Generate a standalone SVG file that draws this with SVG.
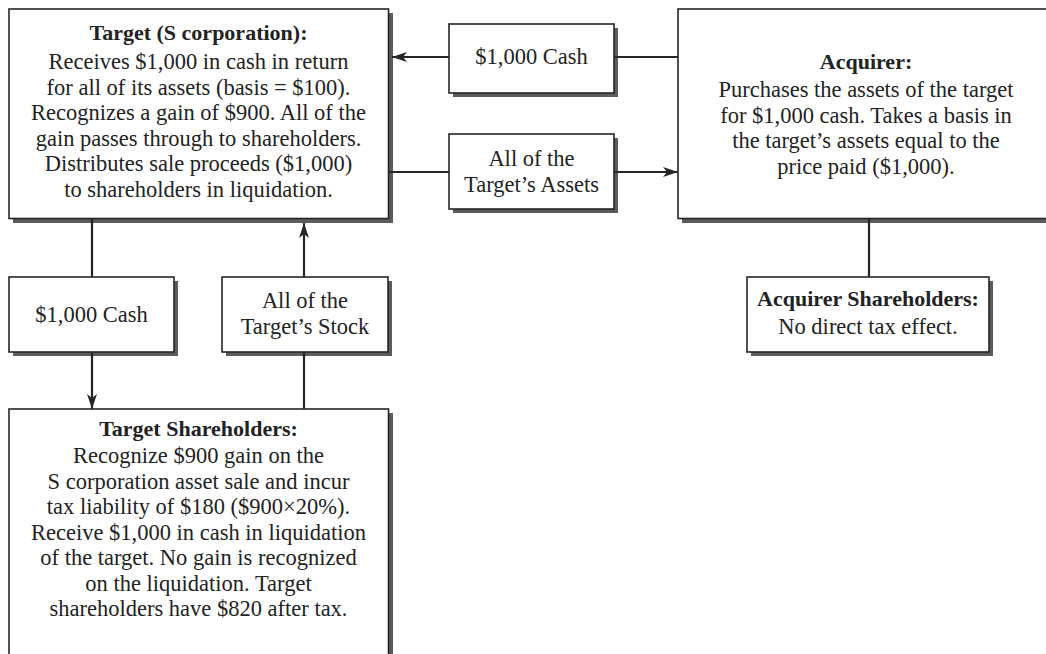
<svg xmlns="http://www.w3.org/2000/svg" width="1046" height="654" viewBox="0 0 1046 654">
  <defs>
    <style>
      .shadow { fill: #5c5c5c; }
      .box { fill: #ffffff; stroke: #262626; stroke-width: 1.6; }
      .t { font-family: "Liberation Serif", "Times New Roman", serif; font-size: 22.5px; fill: #222222; text-anchor: middle; }
      .b { font-weight: bold; font-size: 22px; }
      .wire { fill: none; stroke: #262626; stroke-width: 2.2; }
      .arrow { marker-end: url(#head); }
    </style>
    <marker id="head" markerUnits="userSpaceOnUse" viewBox="0 0 15 10" markerWidth="15" markerHeight="10" refX="15" refY="5" orient="auto">
      <path d="M0,0 L15,5 L0,10 L4,5 Z" fill="#262626"/>
    </marker>
  </defs>

  <rect width="1046" height="654" fill="#ffffff"/>

  <!-- Target corporation -->
  <g id="target">
    <rect class="shadow" x="13" y="13" width="380" height="210"/>
    <rect class="box" x="9" y="9" width="379.5" height="209.5"/>
    <text class="t b" x="198.5" y="40">Target (S corporation):</text>
    <text class="t" x="198.5" y="69">Receives $1,000 in cash in return</text>
    <text class="t" x="198.5" y="94.5">for all of its assets (basis = $100).</text>
    <text class="t" x="198.5" y="120">Recognizes a gain of $900. All of the</text>
    <text class="t" x="198.5" y="145.5">gain passes through to shareholders.</text>
    <text class="t" x="198.5" y="171">Distributes sale proceeds ($1,000)</text>
    <text class="t" x="198.5" y="196.5">to shareholders in liquidation.</text>
  </g>

  <!-- Cash paid by the acquirer -->
  <g id="cash-top">
    <rect class="shadow" x="453" y="28" width="165" height="69"/>
    <rect class="box" x="449" y="24" width="165" height="69"/>
    <text class="t" x="531.5" y="64">$1,000 Cash</text>
  </g>

  <!-- Assets transferred -->
  <g id="assets">
    <rect class="shadow" x="453" y="138" width="165" height="75"/>
    <rect class="box" x="449" y="134" width="165" height="75"/>
    <text class="t" x="531.5" y="166">All of the</text>
    <text class="t" x="531.5" y="192">Target’s Assets</text>
  </g>

  <!-- Acquirer -->
  <g id="acquirer">
    <rect class="shadow" x="682" y="13" width="390" height="210"/>
    <rect class="box" x="678" y="9" width="390" height="209.5"/>
    <text class="t b" x="866" y="69">Acquirer:</text>
    <text class="t" x="866" y="97">Purchases the assets of the target</text>
    <text class="t" x="866" y="122.5">for $1,000 cash. Takes a basis in</text>
    <text class="t" x="866" y="148">the target’s assets equal to the</text>
    <text class="t" x="866" y="173.5">price paid ($1,000).</text>
  </g>

  <!-- Acquirer shareholders -->
  <g id="acquirer-shareholders">
    <rect class="shadow" x="751" y="281" width="242" height="75"/>
    <rect class="box" x="747" y="277" width="242" height="75"/>
    <text class="t b" x="868" y="306">Acquirer Shareholders:</text>
    <text class="t" x="868" y="334">No direct tax effect.</text>
  </g>

  <!-- Liquidating distribution -->
  <g id="cash-bottom">
    <rect class="shadow" x="13" y="281" width="165" height="75"/>
    <rect class="box" x="9" y="277" width="165" height="75"/>
    <text class="t" x="91.5" y="322">$1,000 Cash</text>
  </g>

  <!-- Stock surrendered -->
  <g id="stock">
    <rect class="shadow" x="226" y="281" width="166" height="75"/>
    <rect class="box" x="222" y="277" width="166" height="75"/>
    <text class="t" x="305" y="308">All of the</text>
    <text class="t" x="305" y="334">Target’s Stock</text>
  </g>

  <!-- Target shareholders -->
  <g id="target-shareholders">
    <rect class="shadow" x="13" y="413" width="380" height="260"/>
    <rect class="box" x="9" y="409" width="379.5" height="260"/>
    <text class="t b" x="198.5" y="436">Target Shareholders:</text>
    <text class="t" x="198.5" y="463">Recognize $900 gain on the</text>
    <text class="t" x="198.5" y="488.5">S corporation asset sale and incur</text>
    <text class="t" x="198.5" y="514">tax liability of $180 ($900×20%).</text>
    <text class="t" x="198.5" y="539.5">Receive $1,000 in cash in liquidation</text>
    <text class="t" x="198.5" y="565">of the target. No gain is recognized</text>
    <text class="t" x="198.5" y="590.5">on the liquidation. Target</text>
    <text class="t" x="198.5" y="616">shareholders have $820 after tax.</text>
  </g>

  <!-- Flows between the parties -->
  <g id="connectors">
    <line class="wire" x1="678" y1="57" x2="614.5" y2="57"/>
    <line class="wire arrow" x1="449" y1="57" x2="392" y2="57"/>
    <line class="wire" x1="389" y1="172" x2="449" y2="172"/>
    <line class="wire arrow" x1="614.5" y1="172" x2="678" y2="172"/>
    <line class="wire" x1="869" y1="219" x2="869" y2="277"/>
    <line class="wire" x1="92" y1="219" x2="92" y2="277"/>
    <line class="wire arrow" x1="92" y1="352.5" x2="92" y2="409"/>
    <line class="wire" x1="304" y1="409" x2="304" y2="352.5"/>
    <line class="wire arrow" x1="304" y1="277" x2="304" y2="223"/>
  </g>
</svg>
